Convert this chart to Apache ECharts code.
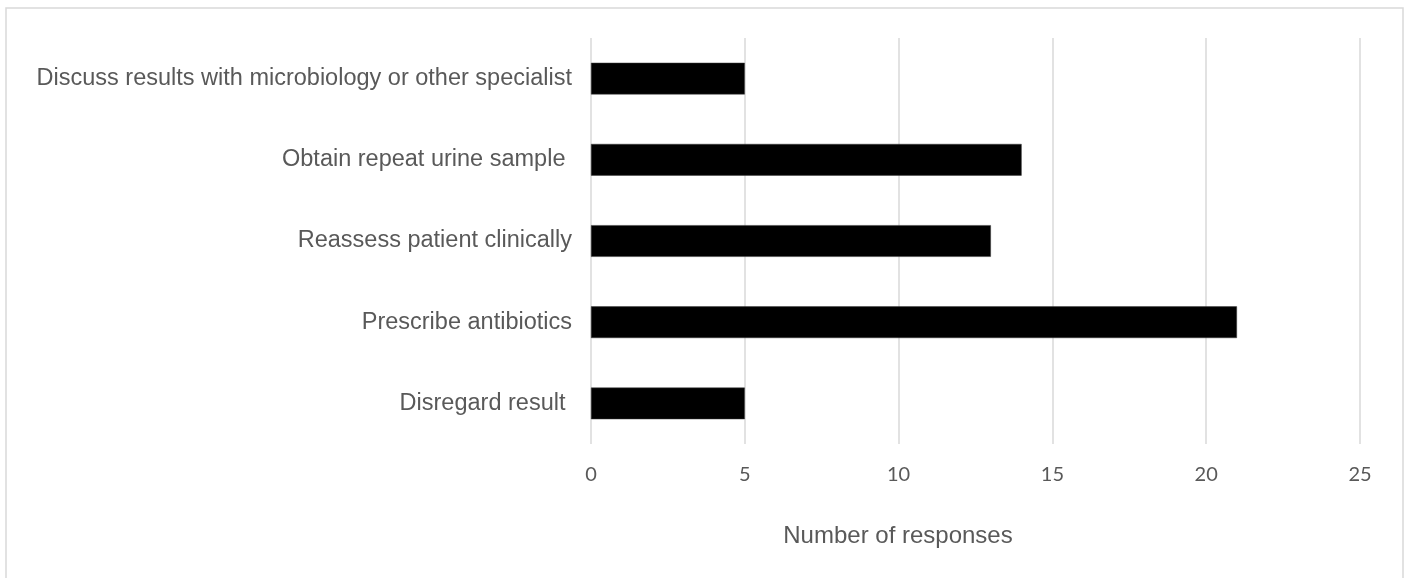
<!DOCTYPE html>
<html>
<head>
<meta charset="utf-8">
<script src="https://cdn.jsdelivr.net/npm/echarts@6/dist/echarts.min.js"></script>
<style>
html,body{margin:0;padding:0;background:#fff;}
#main{width:1409px;height:578px;}
</style>
</head>
<body>
<div id="main"></div>
<script>
// Categories bottom to top
const categories = ["Disregard result ", "Prescribe antibiotics", "Reassess patient clinically", "Obtain repeat urine sample ", "Discuss results with microbiology or other specialist"];
const responses = [5, 21, 13, 14, 5];
const xTicks = [0, 5, 10, 15, 20, 25];
const axisTitle = "Number of responses";

const chart = echarts.init(document.getElementById('main'), null, {renderer: 'canvas'});
chart.setOption({
  animation: false,
  backgroundColor: '#ffffff',
  grid: {left: 591, right: 49, top: 38, bottom: 134, containLabel: false},
  xAxis: {
    type: 'value',
    min: xTicks[0],
    max: xTicks[xTicks.length - 1],
    interval: xTicks[1] - xTicks[0],
    axisLine: {show: false},
    axisTick: {show: false},
    splitLine: {show: true, lineStyle: {color: '#d9d9d9', width: 1.5}},
    axisLabel: {color: '#595959', fontSize: 20, fontFamily: 'Lato, "Open Sans", sans-serif', margin: 21}
  },
  yAxis: {
    type: 'category',
    data: categories,
    axisLine: {show: false},
    axisTick: {show: false},
    splitLine: {show: false},
    axisLabel: {color: '#595959', fontSize: 23.5, fontFamily: '"Liberation Sans", Arial, sans-serif', margin: 19}
  },
  series: [{
    type: 'bar',
    data: responses,
    barWidth: '39%',
    itemStyle: {color: '#000000', borderColor: '#3a3a3a', borderWidth: 0.5}
  }],
  graphic: [
    {type: 'rect', shape: {x: 6, y: 8, width: 1397, height: 620}, style: {fill: 'none', stroke: '#d9d9d9', lineWidth: 1.5}, z: -1},
    {type: 'text', x: 898, y: 536, style: {text: axisTitle, fill: '#595959', font: '24px "Liberation Sans", Arial, sans-serif', textAlign: 'center', textVerticalAlign: 'middle'}}
  ]
});
</script>
</body>
</html>
